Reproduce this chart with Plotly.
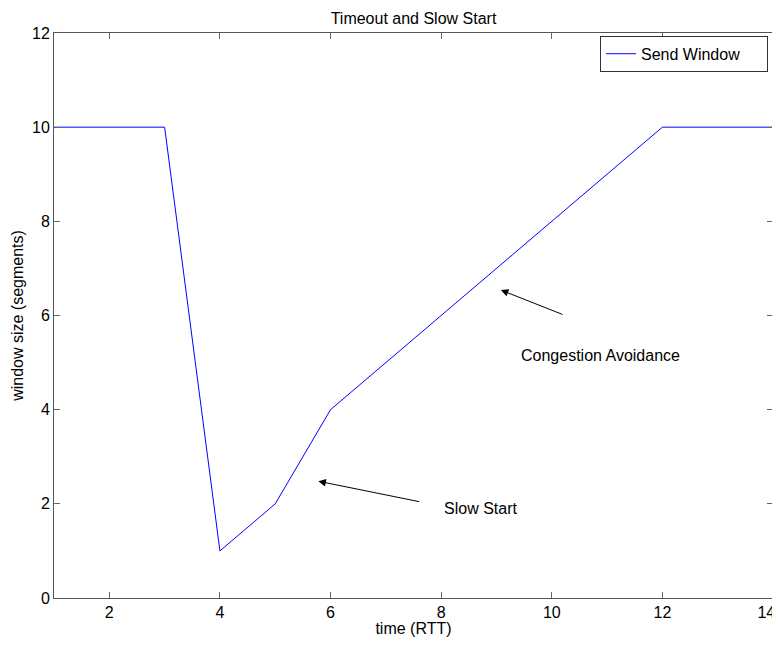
import plotly.graph_objects as go

time_rtt = [1, 3, 4, 5, 6, 7, 8, 9, 10, 11, 12, 13, 14]
window = [10, 10, 1, 2, 4, 5, 6, 7, 8, 9, 10, 10, 10]
x_ticks = [2, 4, 6, 8, 10, 12, 14]
x_tick_labels = ["2", "4", "6", "8", "10", "12", "14"]
y_ticks = [0, 2, 4, 6, 8, 10, 12]

font = dict(family="Arial, Liberation Sans, sans-serif", size=16, color="black")

# last label sits on the page edge: pad it so its glyphs stay inside the window
x_ticktext = x_tick_labels[:-1] + [x_tick_labels[-1] + "\u00a0\u00a0\u00a0"]

fig = go.Figure()
fig.add_trace(go.Scatter(x=time_rtt, y=window, mode="lines",
                         name="Send Window\u00a0\u00a0\u00a0\u00a0\u00a0",
                         line=dict(color="#0000ff", width=1)))

ax_common = dict(showgrid=False, zeroline=False, showline=True, linecolor="#555",
                 linewidth=1, mirror="ticks", ticks="inside", ticklen=6,
                 tickcolor="#666", tickfont=font, automargin=False,
                 ticklabeloverflow="allow")

# page body has an 8px default margin; figure sized to fit the 780x645 window
fig.update_layout(
    width=772, height=629,
    margin=dict(l=46, r=7, t=25, b=39),
    paper_bgcolor="white", plot_bgcolor="white",
    font=font,
    title=dict(text="Timeout and Slow Start", x=0.5, xref="paper", xanchor="center",
               y=1, yref="paper", yanchor="bottom", pad=dict(b=9), font=font,
               automargin=False),
    xaxis=dict(range=[1, 14], tickvals=x_ticks, ticktext=x_ticktext,
               title=dict(text="time (RTT)", font=font, standoff=2), **ax_common),
    yaxis=dict(range=[0, 12], tickvals=y_ticks,
               title=dict(text="window size (segments)", font=font, standoff=4), **ax_common),
    legend=dict(x=0.993, y=0.995, xanchor="right", yanchor="top", bordercolor="#333",
                borderwidth=1, bgcolor="white", font=font, tracegroupgap=0,
                itemwidth=30),
    showlegend=True,
)

fig.add_annotation(x=5.78, y=2.48, ax=7.63, ay=2.04, axref="x", ayref="y", xref="x", yref="y",
                   text="", showarrow=True, arrowhead=2, arrowsize=1.5, arrowwidth=1, arrowcolor="black")
fig.add_annotation(x=9.08, y=6.54, ax=10.22, ay=6.01, axref="x", ayref="y", xref="x", yref="y",
                   text="", showarrow=True, arrowhead=2, arrowsize=1.5, arrowwidth=1, arrowcolor="black")
fig.add_annotation(x=8.72, y=1.91, text="Slow Start", showarrow=False, font=font)
fig.add_annotation(x=10.89, y=5.16, text="Congestion Avoidance", showarrow=False, font=font)

fig.write_html("out.html")
